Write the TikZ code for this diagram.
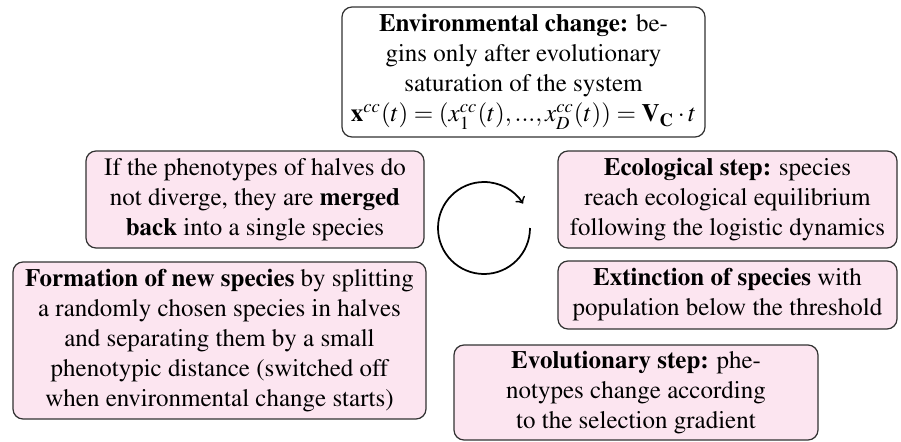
\documentclass[tikz,border=0pt]{standalone}
\usepackage[T1]{fontenc}
\usepackage{mathptmx}
\definecolor{boxpink}{RGB}{252,229,240}
\definecolor{boxline}{RGB}{50,50,50}
\tikzset{
  stagebox/.style={draw=boxline, line width=0.5pt, rounded corners=4pt, fill=boxpink,
    align=center, inner xsep=2pt, inner ysep=0pt, font=\fontsize{10}{12}\selectfont},
  whitebox/.style={stagebox, fill=white},
  cyclearrow/.style={line width=0.7pt, ->}
}
\begin{document}
\begin{tikzpicture}[x=0.4pt, y=-0.4pt]
\useasboundingbox (0,0) rectangle (901,441);
\node[whitebox, minimum width=145.2pt, minimum height=52pt] (env) at (523.5,72)
  {\textbf{Environmental change:} be-\\gins only after evolutionary\\saturation of the system\\
   $\mathbf{x}^{cc}(t)=(x_1^{cc}(t),...,x_D^{cc}(t))=\mathbf{V}_{\mathbf{C}}\cdot t$};
\node[stagebox, minimum width=135.2pt, minimum height=38.8pt] (merge) at (255,199.5)
  {If the phenotypes of halves do\\not diverge, they are \textbf{merged}\\\textbf{back} into a single species};
\node[stagebox, minimum width=165.2pt, minimum height=62.8pt] (form) at (219.5,340.5)
  {\textbf{Formation of new species} by splitting\\a randomly chosen species in halves\\and separating them by a small\\phenotypic distance (switched off\\when environmental change starts)};
\node[stagebox, minimum width=135.6pt, minimum height=38.8pt] (eco) at (727.5,199.5)
  {\textbf{Ecological step:} species\\reach ecological equilibrium\\following the logistic dynamics};
\node[stagebox, minimum width=135.6pt, minimum height=27.2pt] (ext) at (727.5,295)
  {\textbf{Extinction of species} with\\population below the threshold};
\node[stagebox, minimum width=145.6pt, minimum height=38pt] (evo) at (636,392.5)
  {\textbf{Evolutionary step:} phe-\\notypes change according\\to the selection gradient};
\coordinate (cyc) at (484,228);
\draw[cyclearrow] ([shift={(0:18.4pt)}]cyc) arc[start angle=0, end angle=-328, radius=18.4pt];
\end{tikzpicture}
\end{document}
